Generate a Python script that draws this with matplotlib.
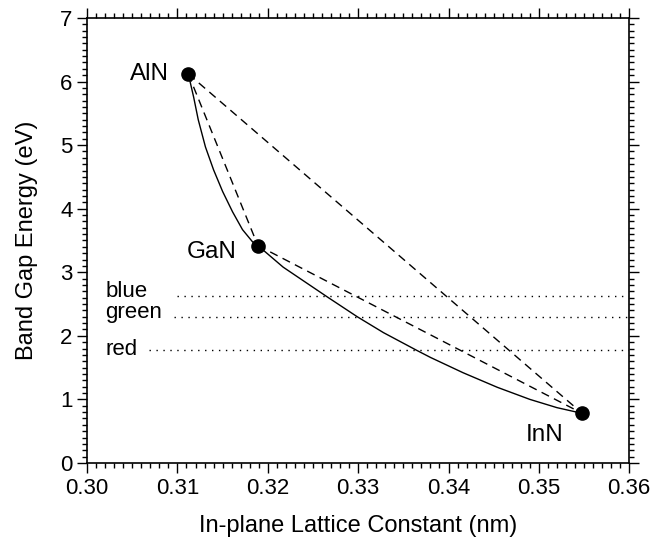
import matplotlib
matplotlib.use('Agg')
import matplotlib.pyplot as plt
from matplotlib.ticker import MultipleLocator

plt.rcParams['font.family'] = ['Liberation Sans', 'DejaVu Sans']

# end-point compounds
names = ['AlN', 'GaN', 'InN']
lattice = [0.3112, 0.3189, 0.3548]
gap = [6.12, 3.42, 0.78]

# solid bowing curve
curve_x = [0.3112, 0.3118, 0.3123, 0.3131, 0.3140, 0.3150, 0.3161, 0.3172,
           0.3183, 0.3189, 0.3217, 0.3266, 0.3299, 0.3328, 0.3365, 0.3380,
           0.3416, 0.3454, 0.3490, 0.3520, 0.3548]
curve_y = [6.12, 5.75, 5.40, 4.97, 4.61, 4.27, 3.95, 3.67,
           3.48, 3.42, 3.08, 2.61, 2.30, 2.05, 1.77, 1.66,
           1.42, 1.19, 1.00, 0.87, 0.78]

# visible colour levels
colours = ['blue', 'green', 'red']
colour_gap = [2.62, 2.30, 1.77]
colour_start = [0.3100, 0.3096, 0.3068]
colour_label_y = [2.69, 2.36, 1.78]

fig = plt.figure(figsize=(6.5, 5.44), dpi=100)
ax = fig.add_axes([0.134, 0.149, 0.834, 0.818])

ax.plot(curve_x, curve_y, color='black', lw=1.0)

# dashed straight lines between the compounds
pairs = [(0, 1), (1, 2), (0, 2)]
for i, j in pairs:
    ax.plot([lattice[i], lattice[j]], [gap[i], gap[j]], color='black',
            lw=1.0, dashes=(6, 4))

for k in range(len(colours)):
    ax.plot([colour_start[k], 0.36], [colour_gap[k], colour_gap[k]],
            color='black', lw=1.0, linestyle=(0, (1, 4)))
    ax.text(0.3020, colour_label_y[k], colours[k], fontsize=16,
            ha='left', va='center')

ax.plot(lattice, gap, 'o', color='black', ms=9.5, zorder=5)

ax.text(0.3091, 6.12, 'AlN', fontsize=17.5, ha='right', va='center')
ax.text(0.3165, 3.32, 'GaN', fontsize=17.5, ha='right', va='center')
ax.text(0.3527, 0.44, 'InN', fontsize=17.5, ha='right', va='center')

ax.set_xlim(0.30, 0.36)
ax.set_ylim(0, 7)
ax.xaxis.set_major_locator(MultipleLocator(0.01))
ax.xaxis.set_minor_locator(MultipleLocator(0.001))
ax.yaxis.set_major_locator(MultipleLocator(1))
ax.yaxis.set_minor_locator(MultipleLocator(0.1))
ax.set_xticklabels(['%.2f' % v for v in ax.get_xticks()])

ax.tick_params(which='both', direction='out', top=True, right=True,
               labelsize=16, width=1.0, colors='black')
ax.tick_params(which='major', length=7)
ax.tick_params(which='minor', length=3.5)
for s in ax.spines.values():
    s.set_linewidth(1.2)

ax.set_xlabel('In-plane Lattice Constant (nm)', fontsize=17, labelpad=12)
ax.set_ylabel('Band Gap Energy (eV)', fontsize=17, labelpad=16)

fig.savefig('out.png', dpi=100)
